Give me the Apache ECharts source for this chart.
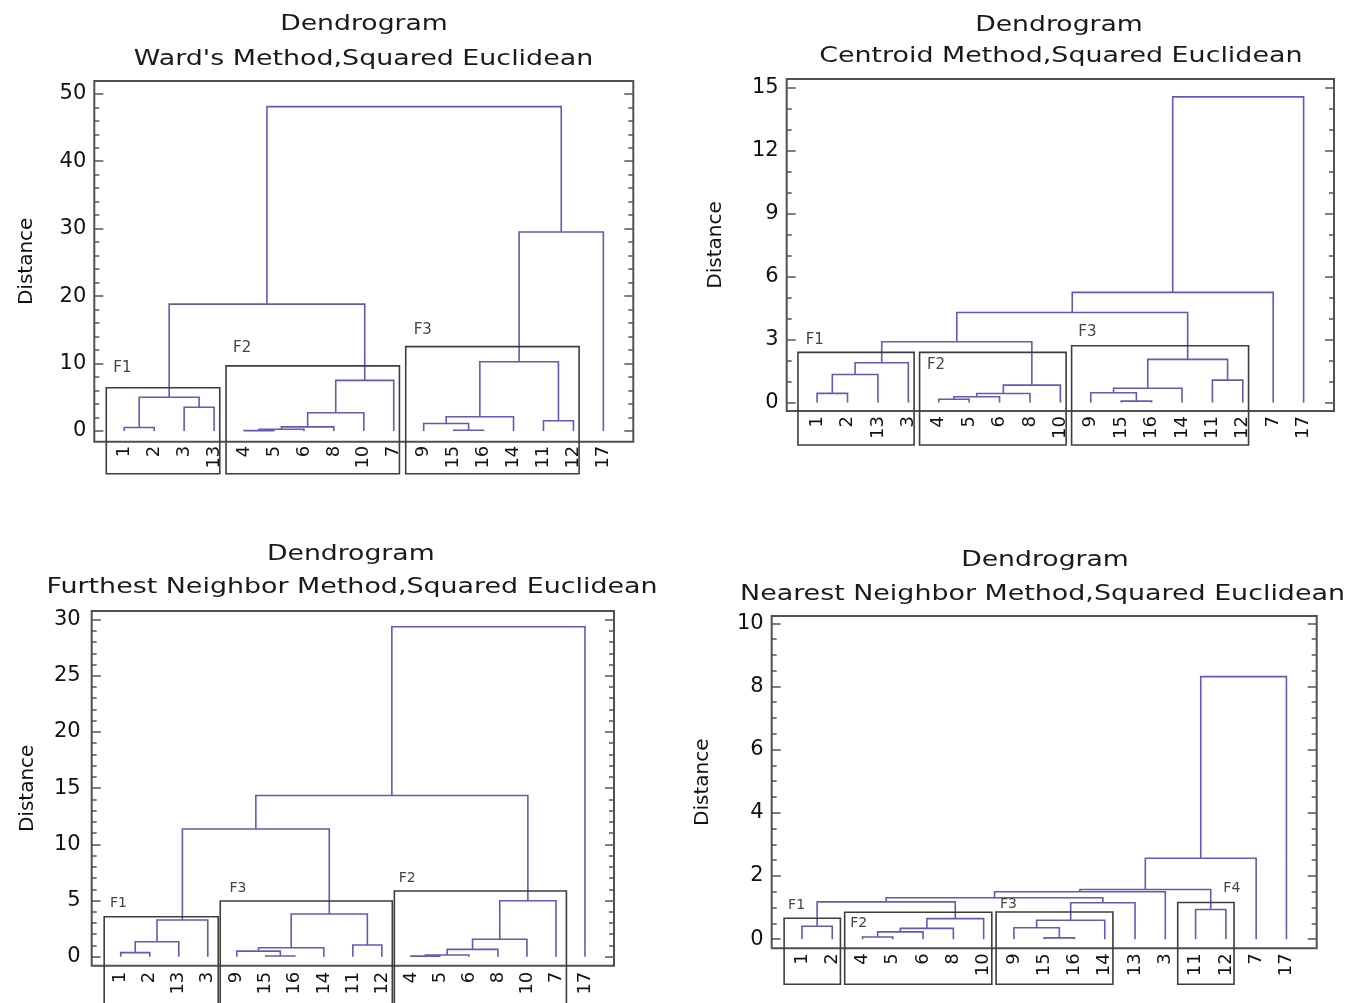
<!DOCTYPE html>
<html>
<head>
<meta charset="utf-8">
<script src="https://cdn.jsdelivr.net/npm/echarts@6/dist/echarts.min.js"></script>
<style>
html,body{margin:0;padding:0;background:#ffffff;}
#chart{width:1349px;height:1003px;}
</style>
</head>
<body>
<div id="chart"></div>
<script>
// ---------------- DATA ----------------
const titleText = 'Dendrogram';
const subtitles = [
  "Ward's Method,Squared Euclidean",
  'Centroid Method,Squared Euclidean',
  'Furthest Neighbor Method,Squared Euclidean',
  'Nearest Neighbor Method,Squared Euclidean'
];
const yAxisName = 'Distance';

// leaf order (left to right) of each dendrogram
const wardLeaves     = [1,2,3,13,4,5,6,8,10,7,9,15,16,14,11,12,17];
const centroidLeaves = [1,2,13,3,4,5,6,8,10,9,15,16,14,11,12,7,17];
const furthestLeaves = [1,2,13,3,9,15,16,14,11,12,4,5,6,8,10,7,17];
const nearestLeaves  = [1,2,4,5,6,8,10,9,15,16,14,13,3,11,12,7,17];

// merges: [left, right, distance]; numbers = case labels, 'cK' = result of merge K
const wardMerges = [
  [1,2,0.5],[3,13,3.5],['c0','c1',5.0],
  [4,5,0.05],['c3',6,0.25],['c4',8,0.6],['c5',10,2.7],['c6',7,7.5],
  ['c2','c7',18.8],
  [15,16,0.1],[9,'c9',1.1],['c10',14,2.1],[11,12,1.5],['c11','c12',10.25],
  ['c13',17,29.5],['c8','c14',48.1]
];
const centroidMerges = [
  [1,2,0.43],['c0',13,1.33],['c1',3,1.89],
  [4,5,0.15],['c3',6,0.27],['c4',8,0.42],['c5',10,0.82],
  ['c2','c6',2.89],
  [15,16,0.06],[9,'c8',0.46],['c9',14,0.67],[11,12,1.06],['c10','c11',2.05],
  ['c7','c12',4.28],['c13',7,5.24],['c14',17,14.55]
];
const furthestMerges = [
  [1,2,0.36],['c0',13,1.33],['c1',3,3.27],
  [15,16,0.06],[9,'c3',0.5],['c4',14,0.8],[11,12,1.04],['c5','c6',3.8],
  ['c2','c7',11.36],
  [4,5,0.05],['c9',6,0.15],['c10',8,0.65],['c11',10,1.55],['c12',7,4.98],
  ['c8','c13',14.35],['c14',17,29.36]
];
const nearestMerges = [
  [1,2,0.41],
  [4,5,0.07],['c1',6,0.23],['c2',8,0.34],['c3',10,0.65],
  ['c0','c4',1.18],
  [15,16,0.04],[9,'c6',0.36],['c7',14,0.6],['c8',13,1.15],
  ['c5','c9',1.31],['c10',3,1.5],[11,12,0.94],['c11','c12',1.57],
  ['c13',7,2.56],['c14',17,8.31]
];

// highlighted groups: [name, first case, last case, box top distance]
const wardGroups     = [['F1',1,13,6.4],['F2',4,7,9.65],['F3',9,12,12.5]];
const centroidGroups = [['F1',1,3,2.38],['F2',4,10,2.38],['F3',9,12,2.7]];
const furthestGroups = [['F1',1,3,3.56],['F3',9,12,4.96],['F2',4,7,5.85]];
const nearestGroups  = [['F1',1,2,0.66],['F2',4,10,0.85],['F3',9,14,0.86],['F4',11,12,1.16]];

// y-axis tick values
const wardTicks      = [0,10,20,30,40,50];
const wardMinor      = [2,4,6,8,12,14,16,18,22,24,26,28,32,34,36,38,42,44,46,48];
const centroidTicks  = [0,3,6,9,12,15];
const centroidMinor  = [1,2,4,5,7,8,10,11,13,14];
const furthestTicks  = [0,5,10,15,20,25,30];
const furthestMinor  = [1,2,3,4,6,7,8,9,11,12,13,14,16,17,18,19,21,22,23,24,26,27,28,29];
const nearestTicks   = [0,2,4,6,8,10];
const nearestMinor   = [0.5,1,1.5,2.5,3,3.5,4.5,5,5.5,6.5,7,7.5,8.5,9,9.5];

// ---------------- LAYOUT / STYLE ----------------
const FONT = '"DejaVu Sans", "Liberation Sans", sans-serif';
const LINK_COLOR = '#625ab5';
const BOX_COLOR = '#3d3d3d';
const panels = [
  { leaves: wardLeaves, merges: wardMerges, groups: wardGroups, ticks: wardTicks, minor: wardMinor,
    rect: [94.3, 81, 539, 360.7], yMin: -1.6, yMax: 51.9,
    title: [364, 24.7], sub: [363.5, 60], nameGap: 58, labelMargin: 8, leafMargin: 4,
    boxBelow: 32, padL: 0.6, padR: 0.19, groupFont: 15,
    labelOff: [[7,-19.7],[7,-17.4],[8,-16.7]] },
  { leaves: centroidLeaves, merges: centroidMerges, groups: centroidGroups, ticks: centroidTicks, minor: centroidMinor,
    rect: [786.7, 79, 547.3, 332], yMin: -0.41, yMax: 15.4,
    title: [1059, 25.8], sub: [1060.8, 56.7], nameGap: 61, labelMargin: 8, leafMargin: 5,
    boxBelow: 34, padL: 0.63, padR: 0.19, groupFont: 15,
    labelOff: [[7.7,-12.3],[7.4,12.7],[6.7,-14]] },
  { leaves: furthestLeaves, merges: furthestMerges, groups: furthestGroups, ticks: furthestTicks, minor: furthestMinor,
    rect: [91.7, 611, 522.3, 354.7], yMin: -0.8, yMax: 30.76,
    title: [350.8, 554.2], sub: [352, 587.5], nameGap: 54, labelMargin: 11, leafMargin: 6,
    boxBelow: 45, padL: 0.57, padR: 0.36, groupFont: 14,
    labelOff: [[5.7,-13.4],[9.3,-12.7],[4.3,-12.7]] },
  { leaves: nearestLeaves, merges: nearestMerges, groups: nearestGroups, ticks: nearestTicks, minor: nearestMinor,
    rect: [771.7, 616, 545, 332.3], yMin: -0.29, yMax: 10.23,
    title: [1045, 560.8], sub: [1042.5, 594.2], nameGap: 59, labelMargin: 8, leafMargin: 5,
    boxBelow: 36, padL: 0.59, padR: 0.27, groupFont: 14,
    labelOff: [[4,-13.3],[5.6,11],[4,-7.7],[45.6,-14]] }
];

// turn merge list into link segments [xLeft, yLeft, xRight, yRight, height]
function buildLinks(leaves, merges) {
  const pos = {}, hgt = {};
  const key = v => (typeof v === 'number' ? 'L' + v : v);
  leaves.forEach((l, i) => { pos['L' + l] = i; hgt['L' + l] = 0; });
  return merges.map((m, k) => {
    const a = key(m[0]), b = key(m[1]);
    const seg = [pos[a], hgt[a], pos[b], hgt[b], m[2]];
    pos['c' + k] = (pos[a] + pos[b]) / 2;
    hgt['c' + k] = m[2];
    return seg;
  });
}

const grid = [], xAxis = [], yAxis = [], series = [], graphic = [];

panels.forEach((p, i) => {
  grid.push({
    left: p.rect[0], top: p.rect[1], width: p.rect[2], height: p.rect[3],
    show: true, borderColor: '#505050', borderWidth: 2, backgroundColor: 'transparent',
    containLabel: false, outerBoundsMode: 'none'
  });
  xAxis.push({
    type: 'value', gridIndex: i, min: -1, max: p.leaves.length, position: 'bottom',
    axisLine: { show: false, onZero: false }, axisTick: { show: false }, splitLine: { show: false },
    axisLabel: {
      customValues: p.leaves.map((_, k) => k),
      formatter: v => String(p.leaves[Math.round(v)]),
      rotate: 90, fontSize: 18, fontFamily: FONT, color: '#111', margin: p.leafMargin
    }
  });
  const base = { type: 'value', gridIndex: i, min: p.yMin, max: p.yMax,
                 splitLine: { show: false }, axisLine: { show: false, onZero: false } };
  const tickStyle = { color: '#555', width: 1.5 };
  yAxis.push(Object.assign({}, base, {
    position: 'left',
    axisTick: { inside: true, length: 9, customValues: p.ticks, lineStyle: tickStyle },
    axisLabel: { customValues: p.ticks, fontSize: 21, fontFamily: FONT, color: '#111', margin: p.labelMargin },
    name: yAxisName, nameLocation: 'middle', nameGap: p.nameGap,
    nameTextStyle: { fontSize: 20, fontFamily: FONT, color: '#111' }
  }));
  yAxis.push(Object.assign({}, base, {
    position: 'left',
    axisTick: { inside: true, length: 5, customValues: p.minor, lineStyle: tickStyle },
    axisLabel: { show: false }
  }));
  yAxis.push(Object.assign({}, base, {
    position: 'right',
    axisTick: { inside: true, length: 9, customValues: p.ticks, lineStyle: tickStyle },
    axisLabel: { show: false }
  }));
  yAxis.push(Object.assign({}, base, {
    position: 'right',
    axisTick: { inside: true, length: 5, customValues: p.minor, lineStyle: tickStyle },
    axisLabel: { show: false }
  }));

  // dendrogram links
  series.push({
    type: 'custom', name: subtitles[i], xAxisIndex: i, yAxisIndex: 4 * i,
    data: buildLinks(p.leaves, p.merges),
    silent: true,
    renderItem: (params, api) => {
      const a = api.coord([api.value(0), api.value(1)]);
      const b = api.coord([api.value(0), api.value(4)]);
      const c = api.coord([api.value(2), api.value(4)]);
      const d = api.coord([api.value(2), api.value(3)]);
      return { type: 'polyline', shape: { points: [a, b, c, d] },
               style: { stroke: LINK_COLOR, lineWidth: 1.6, fill: null } };
    }
  });

  // group boxes with labels
  const groupData = p.groups.map(g => [p.leaves.indexOf(g[1]), p.leaves.indexOf(g[2]), g[3]]);
  series.push({
    type: 'custom', name: 'groups' + i, xAxisIndex: i, yAxisIndex: 4 * i,
    data: groupData, silent: true,
    renderItem: (params, api) => {
      const cs = params.coordSys;
      const tl = api.coord([api.value(0) - p.padL, api.value(2)]);
      const tr = api.coord([api.value(1) + p.padR, api.value(2)]);
      const bottom = cs.y + cs.height + p.boxBelow;
      const off = p.labelOff[params.dataIndex];
      return { type: 'group', children: [
        { type: 'rect', shape: { x: tl[0], y: tl[1], width: tr[0] - tl[0], height: bottom - tl[1] },
          style: { fill: null, stroke: BOX_COLOR, lineWidth: 1.6 } },
        { type: 'text', x: tl[0] + off[0], y: tl[1] + off[1],
          style: { text: p.groups[params.dataIndex][0], fill: '#444', fontSize: p.groupFont, fontFamily: FONT,
                   align: 'left', verticalAlign: 'middle', textAlign: 'left', textVerticalAlign: 'middle' } }
      ] };
    }
  });

  // titles (text stretched horizontally like the reference)
  graphic.push({ type: 'text', x: p.title[0], y: p.title[1], scaleX: 1.27,
    style: { text: titleText, fontSize: 21, fontFamily: FONT, fill: '#1a1a1a',
             align: 'center', verticalAlign: 'middle', textAlign: 'center', textVerticalAlign: 'middle' } });
  graphic.push({ type: 'text', x: p.sub[0], y: p.sub[1], scaleX: 1.28,
    style: { text: subtitles[i], fontSize: 21, fontFamily: FONT, fill: '#1a1a1a',
             align: 'center', verticalAlign: 'middle', textAlign: 'center', textVerticalAlign: 'middle' } });
});

const chart = echarts.init(document.getElementById('chart'), null, { renderer: 'canvas' });
chart.setOption({
  backgroundColor: '#ffffff',
  animation: false,
  grid, xAxis, yAxis, series, graphic
});
</script>
</body>
</html>
